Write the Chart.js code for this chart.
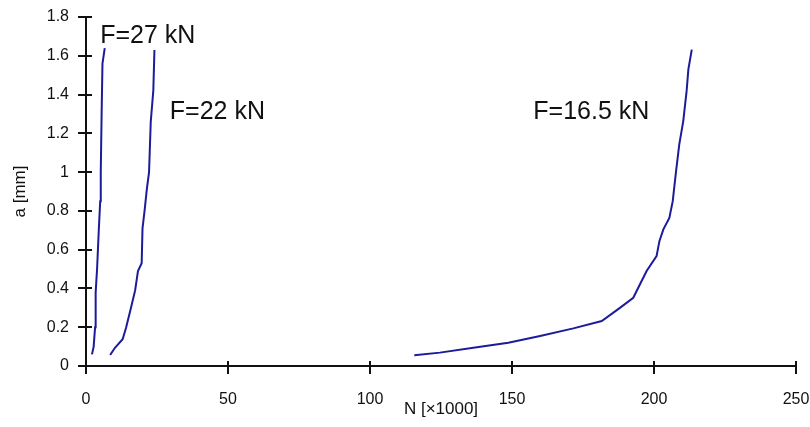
<!DOCTYPE html>
<html>
<head>
<meta charset="utf-8">
<script src="https://cdn.jsdelivr.net/npm/chart.js@4/dist/chart.umd.min.js"></script>
<style>
  html, body { margin: 0; padding: 0; background: #fff; }
  #wrap { position: relative; width: 810px; height: 427px; }
</style>
</head>
<body>
<div id="wrap">
  <canvas id="crack" width="810" height="427"></canvas>
</div>
<script>
// crack length a [mm] vs. cycles N [x1000]
var n27 = [2.1, 2.7, 3.2, 3.4, 3.9, 4.5, 5.0, 5.2, 5.5, 5.8, 6.6];
var a27 = [0.06, 0.10, 0.20, 0.38, 0.50, 0.70, 0.85, 1.00, 1.30, 1.56, 1.64];

var n22 = [8.5, 10.2, 12.9, 14.1, 15.5, 17.3, 18.3, 19.6, 19.9, 20.7, 21.4, 22.2, 22.8, 23.7, 24.1];
var a22 = [0.057, 0.094, 0.138, 0.197, 0.28, 0.39, 0.49, 0.53, 0.71, 0.81, 0.91, 1.0, 1.26, 1.42, 1.63];

var n165 = [115.6, 124.6, 136.4, 148.7, 159.9, 171.6, 181.6, 188, 192.7, 197.4, 200.9, 201.9, 203.3, 205.4, 206.6, 207.7, 208.9, 210.3, 211.5, 212.1, 213.3];
var a165 = [0.055, 0.069, 0.094, 0.12, 0.155, 0.194, 0.232, 0.30, 0.352, 0.49, 0.567, 0.644, 0.705, 0.764, 0.85, 0.996, 1.143, 1.263, 1.42, 1.53, 1.632];

var seriesNames = ["F=27 kN", "F=22 kN", "F=16.5 kN"];
var xTicks = [0, 50, 100, 150, 200, 250];
var yTicks = [0, 0.2, 0.4, 0.6, 0.8, 1, 1.2, 1.4, 1.6, 1.8];

function pts(xs, ys) {
  var out = [];
  for (var i = 0; i < xs.length; i++) out.push({x: xs[i], y: ys[i]});
  return out;
}

var lineColor = '#1c1c9a';
var tickFont = {family: '"Liberation Sans", Arial, sans-serif', size: 16};

// ticks in the picture cross the axis, chart.js only draws the outer half
var innerTicks = {
  id: 'innerTicks',
  afterDraw: function(chart) {
    var ctx = chart.ctx;
    var xs = chart.scales.x, ys = chart.scales.y;
    ctx.save();
    ctx.strokeStyle = '#111';
    ctx.lineWidth = 2;
    ctx.beginPath();
    xs.ticks.forEach(function(t, i) {
      var px = Math.round(xs.getPixelForTick(i));
      ctx.moveTo(px, ys.bottom);
      ctx.lineTo(px, ys.bottom - 5);
    });
    ys.ticks.forEach(function(t, i) {
      var py = Math.round(ys.getPixelForTick(i));
      ctx.moveTo(xs.left, py);
      ctx.lineTo(xs.left + 6, py);
    });
    ctx.stroke();
    ctx.restore();
  }
};

// series names next to each curve
var curveLabels = {
  id: 'curveLabels',
  afterDraw: function(chart) {
    var ctx = chart.ctx;
    var xs = chart.scales.x, ys = chart.scales.y;
    // anchor: [N, a] where the label starts
    var anchors = [[5.0, 1.70], [29.5, 1.31], [157.5, 1.31]];
    ctx.save();
    ctx.fillStyle = '#111';
    ctx.font = '25px "Liberation Sans", Arial, sans-serif';
    ctx.textBaseline = 'middle';
    ctx.textAlign = 'left';
    for (var i = 0; i < seriesNames.length; i++) {
      ctx.fillText(seriesNames[i], xs.getPixelForValue(anchors[i][0]), ys.getPixelForValue(anchors[i][1]));
    }
    ctx.restore();
  }
};

var ctx = document.getElementById('crack').getContext('2d');
var chart = new Chart(ctx, {
  type: 'scatter',
  data: {
    datasets: [
      {label: seriesNames[0], data: pts(n27, a27)},
      {label: seriesNames[1], data: pts(n22, a22)},
      {label: seriesNames[2], data: pts(n165, a165)}
    ].map(function(d) {
      d.showLine = true;
      d.borderColor = lineColor;
      d.borderWidth = 2;
      d.pointRadius = 0;
      d.tension = 0;
      return d;
    })
  },
  options: {
    responsive: false,
    animation: false,
    layout: {padding: {left: 0, right: 14, top: 17, bottom: 0}},
    plugins: {legend: {display: false}, tooltip: {enabled: false}},
    scales: {
      x: {
        type: 'linear', min: 0, max: 250,
        afterBuildTicks: function(s) { s.ticks = xTicks.map(function(v) { return {value: v}; }); },
        afterFit: function(s) { s.height = 61; s.paddingLeft = 0; s.paddingRight = 0; },
        border: {display: true, color: '#111', width: 2},
        grid: {drawOnChartArea: false, drawTicks: true, tickLength: 8, color: '#111', lineWidth: 2},
        ticks: {color: '#111', font: tickFont, padding: 16, maxRotation: 0},
        title: {display: true, text: 'N [×1000]', color: '#111',
                font: {family: '"Liberation Sans", Arial, sans-serif', size: 17},
                padding: {top: 0, bottom: 7}}
      },
      y: {
        type: 'linear', min: 0, max: 1.8,
        afterBuildTicks: function(s) { s.ticks = yTicks.map(function(v) { return {value: v}; }); },
        afterFit: function(s) { s.width = 86; s.paddingTop = 0; s.paddingBottom = 0; },
        border: {display: true, color: '#111', width: 2},
        grid: {drawOnChartArea: false, drawTicks: true, tickLength: 8, color: '#111', lineWidth: 2},
        ticks: {color: '#111', font: tickFont, padding: 9,
                callback: function(v) { return String(+v.toFixed(1)); }},
        title: {display: true, text: 'a [mm]', color: '#111',
                font: {family: '"Liberation Sans", Arial, sans-serif', size: 17},
                padding: {top: 10, bottom: 0}}
      }
    }
  },
  plugins: [innerTicks, curveLabels]
});
</script>
</body>
</html>
